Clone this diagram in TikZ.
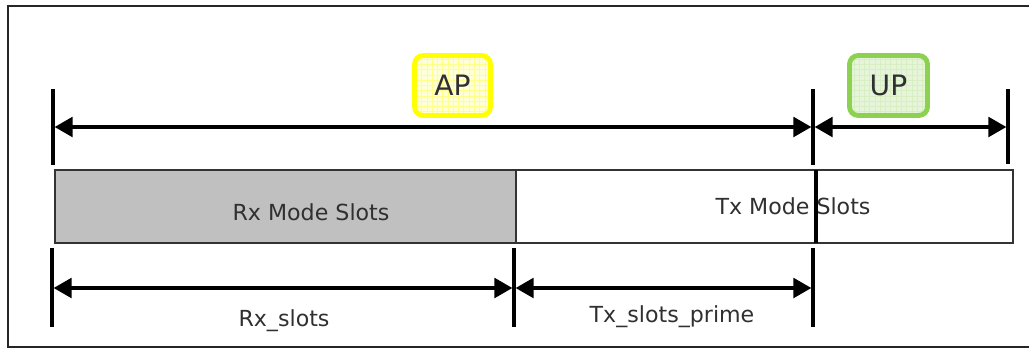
\documentclass[tikz,border=0pt]{standalone}
\usepackage{fontspec}
\setmainfont{DejaVu Sans}
\usetikzlibrary{arrows}
\usetikzlibrary{patterns}

\definecolor{texto}{HTML}{303030}
\definecolor{gris}{HTML}{C0C0C0}
\definecolor{borde ap}{HTML}{FFFF00}
\definecolor{fondo ap}{HTML}{FFFFD8}
\definecolor{borde up}{HTML}{8CD150}
\definecolor{fondo up}{HTML}{E6F5DA}

\begin{document}
\begin{tikzpicture}[x=0.02cm,y=-0.02cm]
\tikzstyle{etiqueta}=[text=texto,font=\fontsize{12.6}{14}\selectfont]
\tikzstyle{caja}=[draw,line width=2.8pt,rounded corners=5pt,text=texto,font=\fontsize{16}{18}\selectfont,minimum height=1.2cm]
\tikzstyle{marca}=[line width=2.2pt]
\tikzstyle{cota}=[line width=1.8pt,triangle 60-triangle 60]

\useasboundingbox (0,0) rectangle (1029,349);
% marco exterior
\draw[line width=1.5pt,draw=black!85] (1035,6) -- (8,6) -- (8,347) -- (1035,347);

% cajas de zona
\node[caja,draw=borde ap,preaction={fill=fondo ap},pattern=grid,pattern color=borde ap!45,minimum width=1.52cm] (ap) at (452.5,85.5) {AP};
\node[caja,draw=borde up,preaction={fill=fondo up},pattern=grid,pattern color=borde up!35,minimum width=1.56cm] (up) at (888.5,85.5) {UP};

% marcas superiores
\coordinate (s1) at (53,127);
\coordinate (s2) at (813,127);
\coordinate (s3) at (1008,127);
\draw[marca] (53,89) -- (53,165);
\draw[marca] (813,89) -- (813,165);
\draw[marca] (1008,89) -- (1008,164);
\draw[cota] ([xshift=1pt]s1) -- ([xshift=-1pt]s2);
\draw[cota] ([xshift=1pt]s2) -- ([xshift=-1pt]s3);

% barra de slots
\draw[line width=1.2pt,draw=black!80,fill=gris] (55,170) rectangle (516,243);
\draw[line width=1.2pt,draw=black!80] (516,170) rectangle (1013,243);
\draw[marca] (816,170) -- (816,243);
\node[etiqueta] (rx) at (311,212) {Rx Mode Slots};
\node[etiqueta] (tx) at (793,206) {Tx Mode Slots};

% marcas inferiores
\coordinate (i1) at (52,288);
\coordinate (i2) at (514,288);
\coordinate (i3) at (813,288);
\draw[marca] (52,248) -- (52,327);
\draw[marca] (514,248) -- (514,327);
\draw[marca] (813,248) -- (813,327);
\draw[cota] ([xshift=1pt]i1) -- ([xshift=-1pt]i2);
\draw[cota] ([xshift=1pt]i2) -- ([xshift=-1pt]i3);
\node[etiqueta] (rxs) at (284,321) {Rx\_slots};
\node[etiqueta] (txs) at (672,317) {Tx\_slots\_prime};
\end{tikzpicture}
\end{document}
